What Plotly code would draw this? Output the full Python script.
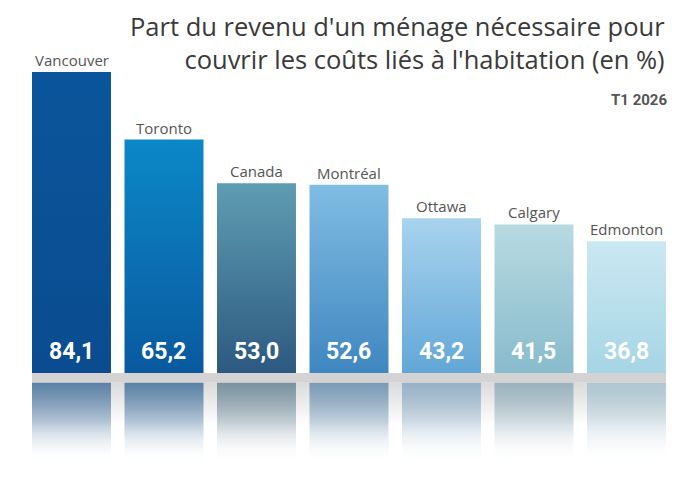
import plotly.graph_objects as go

cities = ["Vancouver", "Toronto", "Canada", "Montréal", "Ottawa", "Calgary", "Edmonton"]
values = [84.1, 65.2, 53.0, 52.6, 43.2, 41.5, 36.8]
value_labels = ["84,1", "65,2", "53,0", "52,6", "43,2", "41,5", "36,8"]
top_colors = ["#0b559c", "#0b88c7", "#5e9db2", "#80bde3", "#a8d3ee", "#b8dae2", "#cbe8f2"]
bottom_colors = ["#0a4c8f", "#0a599f", "#2d5980", "#3f86c0", "#62a7d7", "#88bbcc", "#a6d5e5"]
refl_colors = ["#4d76a0", "#4a77a0", "#6f8a99", "#6f93b3", "#8eadc6", "#93aebb", "#a9c3cf"]

title = "Part du revenu d'un ménage nécessaire pour<br>couvrir les coûts liés à l'habitation (en %)"
subtitle = "T1 2026"

HALF = 0.427
BAND = 2.7
REFL = 22.5

fig = go.Figure()

def rgba(hexc, a):
    h = hexc.lstrip("#")
    r, g, b = int(h[0:2], 16), int(h[2:4], 16), int(h[4:6], 16)
    return f"rgba({r},{g},{b},{a})"

n = len(cities)
# gray floor band
fig.add_trace(go.Scatter(
    x=[-HALF, n - 1 + HALF, n - 1 + HALF, -HALF], y=[0, 0, -BAND, -BAND],
    fill="toself", mode="lines", line=dict(width=0), fillcolor="#d3d3d3",
    hoverinfo="skip", showlegend=False))
# faint gray shadow below band
fig.add_trace(go.Scatter(
    x=[-HALF, n - 1 + HALF, n - 1 + HALF, -HALF], y=[-BAND, -BAND, -BAND - 12, -BAND - 12],
    fill="toself", mode="lines", line=dict(width=0),
    fillgradient=dict(type="vertical", colorscale=[[0, "rgba(215,215,215,0)"], [1, "rgba(215,215,215,0.9)"]]),
    hoverinfo="skip", showlegend=False))

for i, (c, v) in enumerate(zip(cities, values)):
    fig.add_trace(go.Scatter(
        x=[i - HALF, i + HALF, i + HALF, i - HALF], y=[0, 0, v, v],
        fill="toself", mode="lines", line=dict(width=0),
        fillgradient=dict(type="vertical", colorscale=[[0, bottom_colors[i]], [1, top_colors[i]]]),
        hoverinfo="skip", showlegend=False))
    # reflection
    fig.add_trace(go.Scatter(
        x=[i - HALF, i + HALF, i + HALF, i - HALF], y=[-BAND, -BAND, -BAND - REFL, -BAND - REFL],
        fill="toself", mode="lines", line=dict(width=0),
        fillgradient=dict(type="vertical", colorscale=[[0, "rgba(255,255,255,0)"], [0.5, rgba(refl_colors[i], 0.4)], [1, rgba(refl_colors[i], 0.9)]]),
        hoverinfo="skip", showlegend=False))
    fig.add_annotation(x=i, y=v, text=c, showarrow=False, yanchor="bottom", yshift=0,
                       font=dict(family="Open Sans", size=15, color="#555555"))
    fig.add_annotation(x=i, y=0, text=value_labels[i], showarrow=False, yanchor="middle", yshift=21,
                       font=dict(family="Roboto", size=23, color="white", weight="bold"))

fig.add_annotation(xref="paper", yref="paper", x=0.953, y=0.985, xanchor="right", yanchor="top",
                   text=title, showarrow=False, align="right",
                   font=dict(family="Open Sans", size=25.5, color="#3a3a3a"))
fig.add_annotation(xref="paper", yref="paper", x=0.955, y=0.792, xanchor="right", yanchor="middle",
                   text=subtitle, showarrow=False, align="right",
                   font=dict(family="Roboto", size=15, color="#555555", weight="bold"))

fig.update_layout(
    width=700, height=480, margin=dict(l=0, r=0, t=0, b=0),
    paper_bgcolor="white", plot_bgcolor="white", showlegend=False,
    xaxis=dict(range=[-0.773, 6.795], visible=False, fixedrange=True),
    yaxis=dict(range=[-29.9, 104.2], visible=False, fixedrange=True),
)
fig.write_html("out.html")
